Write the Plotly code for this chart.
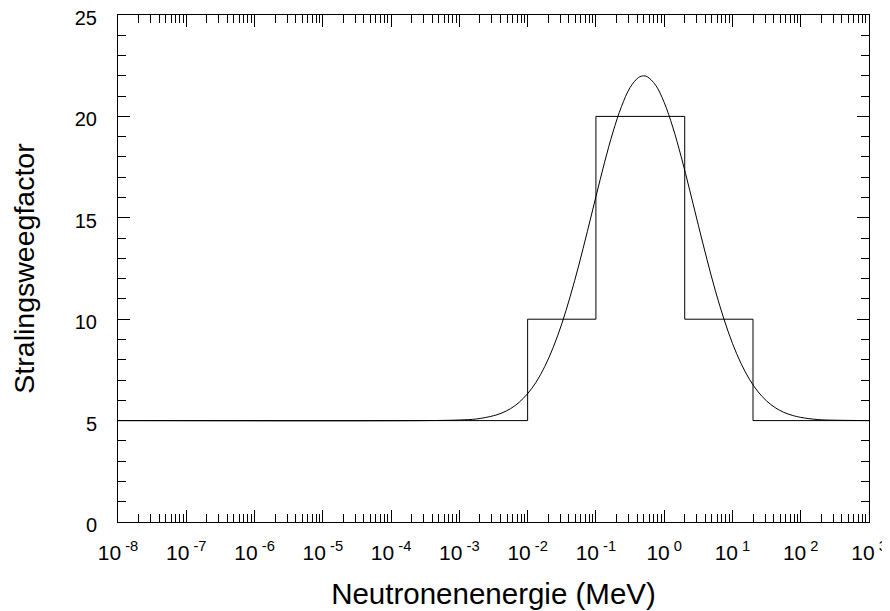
import plotly.graph_objects as go

# Step function (ICRP-60 style weighting factor)
step_energy = [1e-8, 1e-2, 1e-2, 1e-1, 1e-1, 2, 2, 20, 20, 1e3]
step_factor = [5, 5, 10, 10, 20, 20, 10, 10, 5, 5]

# Smooth curve
curve_energy = [1e-8, 3.162e-4, 1e-3, 1.778e-3, 3.162e-3, 4.217e-3, 5.623e-3, 7.499e-3,
                1e-2, 1.334e-2, 1.778e-2, 2.371e-2, 3.162e-2, 4.217e-2, 5.623e-2, 7.499e-2,
                1e-1, 1.334e-1, 1.778e-1, 2.371e-1, 3.162e-1, 4.217e-1, 5.0e-1, 5.623e-1, 7.499e-1,
                1.0, 1.334, 1.778, 2.371, 3.162, 4.217, 5.623, 7.499,
                10, 13.34, 17.78, 23.71, 31.62, 42.17, 56.23, 74.99,
                100, 177.8, 316.2, 1e3]
curve_factor = [5.0, 5.0, 5.03, 5.08, 5.24, 5.38, 5.59, 5.90,
                6.33, 6.90, 7.66, 8.61, 9.77, 11.14, 12.67, 14.33,
                16.04, 17.71, 19.23, 20.49, 21.42, 21.92, 22.0, 21.96, 21.54,
                20.69, 19.48, 18.00, 16.35, 14.64, 12.97, 11.40, 10.01,
                8.81, 7.82, 7.03, 6.42, 5.97, 5.64, 5.41, 5.26,
                5.16, 5.05, 5.02, 5.0]

x_tickvals = [1e-8, 1e-7, 1e-6, 1e-5, 1e-4, 1e-3, 1e-2, 1e-1, 1, 10, 100, 1000]
x_ticktext = ["10<sup> -8</sup>", "10<sup> -7</sup>", "10<sup> -6</sup>", "10<sup> -5</sup>",
              "10<sup> -4</sup>", "10<sup> -3</sup>", "10<sup> -2</sup>", "10<sup> -1</sup>",
              "10<sup> 0</sup>", "10<sup> 1</sup>", "10<sup> 2</sup>", "10<sup> 3</sup>"]
y_tickvals = [0, 5, 10, 15, 20, 25]

fig = go.Figure()
fig.add_trace(go.Scatter(x=step_energy, y=step_factor, mode="lines",
                         line=dict(color="black", width=1), showlegend=False))
fig.add_trace(go.Scatter(x=curve_energy, y=curve_factor, mode="lines",
                         line=dict(color="black", width=1, shape="spline"), showlegend=False))

# page body has an 8px margin, so the figure is offset to compensate
fig.update_layout(
    width=890, height=611,
    margin=dict(l=110, r=29, t=7, b=97, autoexpand=False),
    paper_bgcolor="white", plot_bgcolor="white",
    font=dict(family="Liberation Sans, Arial, sans-serif", color="black", size=20),
)
fig.update_xaxes(
    type="log", range=[-8, 3], automargin=False,
    tickvals=x_tickvals, ticktext=x_ticktext, tickfont=dict(size=21),
    ticklabeloverflow="allow",
    ticks="inside", ticklen=12, tickcolor="black", tickwidth=1,
    minor=dict(ticks="inside", ticklen=8, dtick="D1", tickcolor="black", showgrid=False),
    showline=True, linecolor="black", linewidth=1, mirror="ticks",
    showgrid=False, zeroline=False,
    ticklabelstandoff=12,
    title=dict(text="Neutronenenergie (MeV)", font=dict(size=29.5), standoff=20),
)
fig.update_yaxes(
    range=[0, 25], automargin=False,
    tickvals=y_tickvals, tickfont=dict(size=20),
    ticklabeloverflow="allow", ticklabelshift=3,
    ticks="inside", ticklen=12, tickcolor="black", tickwidth=1,
    minor=dict(ticks="inside", ticklen=8, dtick=1, tickcolor="black", showgrid=False),
    showline=True, linecolor="black", linewidth=1, mirror="ticks",
    showgrid=False, zeroline=False,
    ticklabelstandoff=16,
    title=dict(text="Stralingsweegfactor", font=dict(size=28.5), standoff=33),
)

fig.write_html("out.html")
